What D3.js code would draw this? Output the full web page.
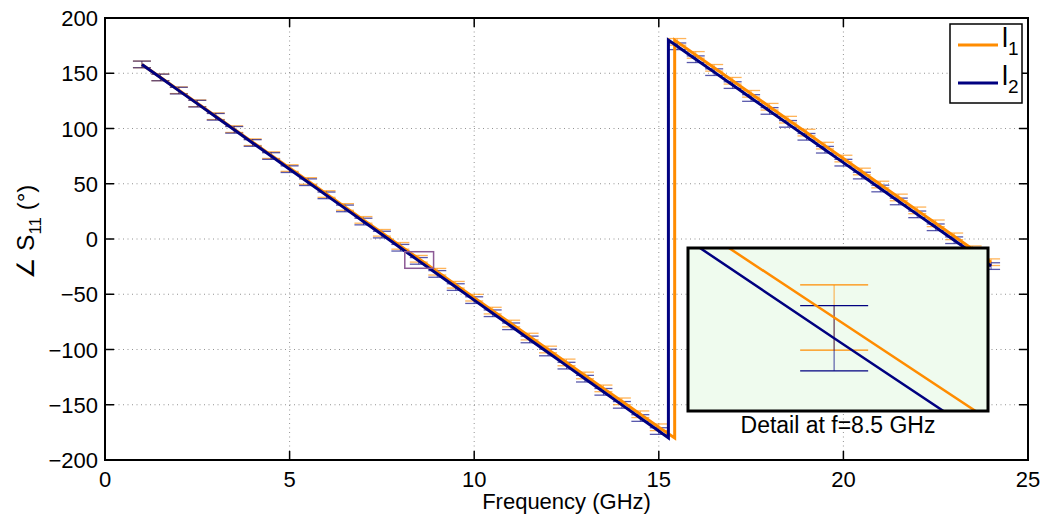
<!DOCTYPE html>
<html>
<head>
<meta charset="utf-8">
<script src="https://cdn.jsdelivr.net/npm/d3@7"></script>
<style>
  html, body { margin: 0; padding: 0; background: #fff; }
  svg { display: block; }
  text { font-family: "Liberation Sans", Arial, Helvetica, sans-serif; fill: #000; }
</style>
</head>
<body>
<svg id="chart" width="1045" height="515"></svg>
<script>
// ---------------- DATA ----------------
const freqs = [1,1.5,2,2.5,3,3.5,4,4.5,5,5.5,6,6.5,7,7.5,8,8.5,9,9.5,10,10.5,11,11.5,12,12.5,13,13.5,14,14.5,15,
               15.5,16,16.5,17,17.5,18,18.5,19,19.5,20,20.5,21,21.5,22,22.5,23,23.5,24];
const phaseL1 = [158.0,146.3,134.6,122.8,111.1,99.4,87.6,75.9,64.2,52.5,40.7,29.0,17.3,5.6,-6.2,-17.9,-29.6,-41.4,-53.1,-64.8,
                 -76.5,-88.3,-100.0,-111.7,-123.5,-135.2,-146.9,-158.6,-170.4,
                 178.4,166.6,154.9,143.2,131.4,119.7,108.0,96.3,84.5,72.8,61.1,49.3,37.6,25.9,14.2,2.4,-9.3,-21.0];
const phaseL2 = [158.0,146.2,134.3,122.5,110.6,98.8,86.9,75.1,63.2,51.4,39.5,27.7,15.8,4.0,-7.9,-19.8,-31.6,-43.5,-55.3,-67.2,
                 -79.0,-90.9,-102.7,-114.6,-126.4,-138.3,-150.1,-162.0,-173.8,
                 174.4,162.7,151.0,139.3,127.6,115.9,104.2,92.5,80.8,69.1,57.4,45.7,34.0,22.3,10.6,-1.1,-12.8,-24.5];
const errL1 = 3;     // half-height of error bars (degrees)
const errL2 = 3;
const wrapL1 = 15.43; // frequency where the phase wraps from -180 to +180
const wrapL2 = 15.26;
const xTicks = [0,5,10,15,20,25];
const yTicks = [-200,-150,-100,-50,0,50,100,150,200];
const detailF = [8.12, 8.9];     // detail window (GHz)
const detailP = [-26.5, -11.5];  // detail window (deg)
const detailLabel = "Detail at f=8.5 GHz";
const seriesNames = ["1","2"];   // subscripts of "l"

// ---------------- STYLE ----------------
const cOrange = "#ff8c00", cNavy = "#000080";
const svg = d3.select("#chart");

const x = d3.scaleLinear().domain([0,25]).range([105,1028]);
const y = d3.scaleLinear().domain([-200,200]).range([460,18]);

const series = [
  {vals: phaseL1, err: errL1, wrap: wrapL1, color: cOrange},
  {vals: phaseL2, err: errL2, wrap: wrapL2, color: cNavy}
];
function linePoints(s) {
  const pts = [];
  freqs.forEach((f,i) => {
    if (i > 0 && freqs[i-1] < s.wrap && f > s.wrap) {
      pts.push([s.wrap, -180]); pts.push([s.wrap, 180]);
    }
    pts.push([f, s.vals[i]]);
  });
  return pts;
}

// grid
const grid = svg.append("g");
xTicks.filter(t => t > 0 && t < 25).forEach(t => {
  grid.append("line").attr("x1", x(t)).attr("x2", x(t)).attr("y1", y(200)).attr("y2", y(-200))
    .attr("stroke", "#777").attr("stroke-width", 0.8).attr("stroke-dasharray", "1,3.5");
});
yTicks.filter(t => t > -200 && t < 200).forEach(t => {
  grid.append("line").attr("x1", x(0)).attr("x2", x(25)).attr("y1", y(t)).attr("y2", y(t))
    .attr("stroke", "#777").attr("stroke-width", 0.8).attr("stroke-dasharray", "1,3.5");
});

// error bars (main)
function drawErrorBars(g, xs, ys, capW, opacity, vOpacity) {
  series.forEach(s => {
    const eg = g.append("g");
    freqs.forEach((f,i) => {
      const v = s.vals[i];
      eg.append("line").attr("x1", xs(f)).attr("x2", xs(f)).attr("y1", ys(v + s.err)).attr("y2", ys(v - s.err))
        .attr("stroke", s.color).attr("stroke-width", 1).attr("stroke-opacity", vOpacity);
      [v + s.err, v - s.err].forEach(c => {
        eg.append("line").attr("x1", xs(f) - capW/2).attr("x2", xs(f) + capW/2).attr("y1", ys(c)).attr("y2", ys(c))
          .attr("stroke", s.color).attr("stroke-width", 1.3).attr("stroke-opacity", opacity);
      });
    });
  });
}
drawErrorBars(svg.append("g"), x, y, 18, 0.65, 0.6);

// lines (main)
series.forEach(s => {
  svg.append("path").datum(linePoints(s))
    .attr("d", d3.line().x(d => x(d[0])).y(d => y(d[1])))
    .attr("fill", "none").attr("stroke", s.color).attr("stroke-width", 3).attr("stroke-linejoin", "miter");
});

// detail rectangle in main plot
svg.append("rect").attr("x", x(detailF[0])).attr("y", y(detailP[1]))
  .attr("width", x(detailF[1]) - x(detailF[0])).attr("height", y(detailP[0]) - y(detailP[1]))
  .attr("fill", "none").attr("stroke", "#8c5a96").attr("stroke-width", 1.5);

// axes box
const ax = svg.append("g");
ax.append("rect").attr("x", x(0)).attr("y", y(200)).attr("width", x(25) - x(0)).attr("height", y(-200) - y(200))
  .attr("fill", "none").attr("stroke", "#000").attr("stroke-width", 2);
const tl = 9;
xTicks.forEach(t => {
  ax.append("line").attr("x1", x(t)).attr("x2", x(t)).attr("y1", y(-200)).attr("y2", y(-200) - tl).attr("stroke", "#000").attr("stroke-width", 1.5);
  ax.append("line").attr("x1", x(t)).attr("x2", x(t)).attr("y1", y(200)).attr("y2", y(200) + tl).attr("stroke", "#000").attr("stroke-width", 1.5);
  ax.append("text").attr("x", x(t)).attr("y", 487).attr("text-anchor", "middle").attr("font-size", 22).text(t);
});
yTicks.forEach(t => {
  ax.append("line").attr("x1", x(0)).attr("x2", x(0) + tl).attr("y1", y(t)).attr("y2", y(t)).attr("stroke", "#000").attr("stroke-width", 1.5);
  ax.append("line").attr("x1", x(25)).attr("x2", x(25) - tl).attr("y1", y(t)).attr("y2", y(t)).attr("stroke", "#000").attr("stroke-width", 1.5);
  ax.append("text").attr("x", 98).attr("y", y(t) + 8).attr("text-anchor", "end").attr("font-size", 22)
    .text(t < 0 ? "\u2212" + Math.abs(t) : String(t));
});

// axis labels
svg.append("text").attr("x", x(12.5)).attr("y", 509).attr("text-anchor", "middle").attr("font-size", 22).text("Frequency (GHz)");
const yl = svg.append("text").attr("transform", "translate(34,232) rotate(-90)").attr("text-anchor", "middle").attr("font-size", 24);
yl.append("tspan").text("\u2220 S");
yl.append("tspan").attr("dy", 7).attr("font-size", 17).text("11");
yl.append("tspan").attr("dy", -7).text(" (\u00b0)");

// inset
const ix0 = 688, ix1 = 988, iy0 = 248, iy1 = 411;
const xi = d3.scaleLinear().domain(detailF).range([ix0, ix1]);
const yi = d3.scaleLinear().domain(detailP).range([iy1, iy0]);
const inset = svg.append("g");
inset.append("rect").attr("x", ix0).attr("y", iy0).attr("width", ix1 - ix0).attr("height", iy1 - iy0).attr("fill", "#effbee");
svg.append("clipPath").attr("id", "iclip").append("rect").attr("x", ix0).attr("y", iy0).attr("width", ix1 - ix0).attr("height", iy1 - iy0);
const ig = inset.append("g").attr("clip-path", "url(#iclip)");
series.forEach(s => {
  const i = freqs.indexOf(8.5);
  const f = freqs[i], v = s.vals[i];
  ig.append("line").attr("x1", xi(f)).attr("x2", xi(f)).attr("y1", yi(v + s.err)).attr("y2", yi(v - s.err))
    .attr("stroke", s.color).attr("stroke-width", 1.5).attr("stroke-opacity", 0.5);
  [v + s.err, v - s.err].forEach(c => {
    ig.append("line").attr("x1", xi(f) - 34).attr("x2", xi(f) + 34).attr("y1", yi(c)).attr("y2", yi(c))
      .attr("stroke", s.color).attr("stroke-width", 1.2);
  });
});
series.forEach(s => {
  ig.append("path").datum(linePoints(s))
    .attr("d", d3.line().x(d => xi(d[0])).y(d => yi(d[1])))
    .attr("fill", "none").attr("stroke", s.color).attr("stroke-width", 2.5);
});
inset.append("rect").attr("x", ix0).attr("y", iy0).attr("width", ix1 - ix0).attr("height", iy1 - iy0)
  .attr("fill", "none").attr("stroke", "#000").attr("stroke-width", 3);
svg.append("text").attr("x", (ix0 + ix1) / 2).attr("y", 433).attr("text-anchor", "middle").attr("font-size", 23).text(detailLabel);

// legend
const lg = svg.append("g");
lg.append("rect").attr("x", 950).attr("y", 24).attr("width", 72).attr("height", 79).attr("fill", "#fff").attr("stroke", "#000").attr("stroke-width", 1.5);
series.forEach((s, i) => {
  const yy = 45 + i * 38;
  lg.append("line").attr("x1", 958).attr("x2", 998).attr("y1", yy).attr("y2", yy).attr("stroke", s.color).attr("stroke-width", 3);
  const t = lg.append("text").attr("x", 1002).attr("y", yy + 2).attr("font-size", 27);
  t.append("tspan").text("l");
  t.append("tspan").attr("dy", 8).attr("font-size", 19).text(seriesNames[i]);
});
</script>
</body>
</html>
